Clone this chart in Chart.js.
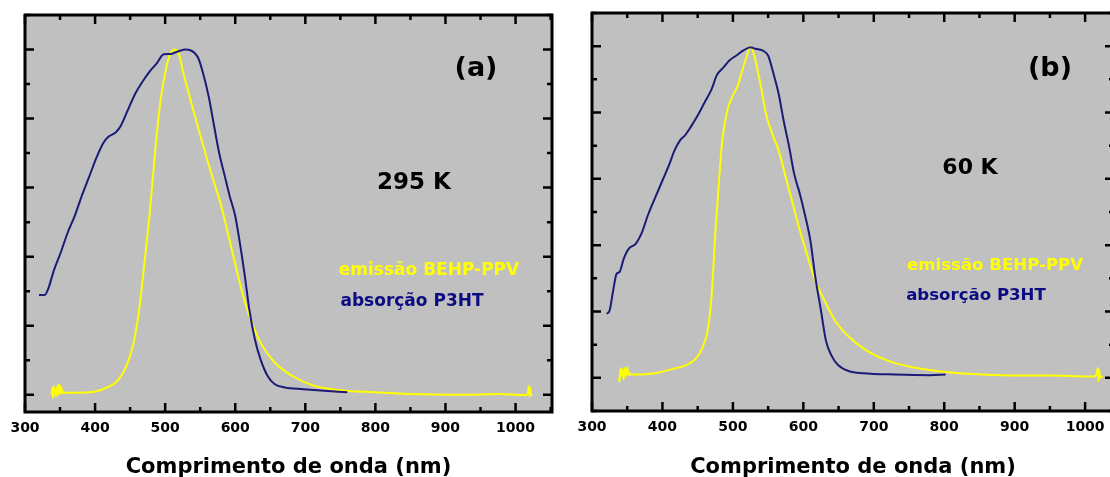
<!DOCTYPE html>
<html><head><meta charset="utf-8">
<script src="https://cdn.jsdelivr.net/npm/chart.js@4"></script>
<style>
html,body{margin:0;padding:0;background:#fff;width:1110px;height:477px;overflow:hidden;}
#wrap{position:relative;width:1110px;height:477px;overflow:hidden;background:#fff;}
#ca{position:absolute;left:0;top:0;}
#cb{position:absolute;left:560px;top:0;}
</style></head><body>
<div id="wrap"><canvas id="ca" width="560" height="480"></canvas><canvas id="cb" width="580" height="480"></canvas></div>
<script>
// ---------- data ----------
const xTickLabels = [300,400,500,600,700,800,900,1000];

// Panel (a) 295 K : absorção P3HT
const absA_nm  = [320,328,333,341,351,361,371,381,392,402,412,419,430,437,447,458,468,478,488,498,508,519,529,536,547,554,562,569,577,585,592,600,605,613,620,628,636,646,656,671,697,722,760];
const absA_val = [0.289,0.289,0.306,0.359,0.412,0.470,0.518,0.576,0.634,0.687,0.730,0.747,0.761,0.780,0.826,0.875,0.908,0.937,0.960,0.986,0.987,0.995,1.0,0.998,0.976,0.932,0.865,0.788,0.701,0.634,0.576,0.518,0.460,0.354,0.248,0.161,0.103,0.055,0.031,0.021,0.016,0.012,0.007];
// Panel (a) 295 K : emissão BEHP-PPV
const emA_nm  = [338,339,340,341,342,343,344,345,346,347,348,349,350,351,352,353,355,356,370,392,417,432,445,455,463,470,478,486,493,501,508,514,519,526,536,549,564,580,595,610,620,636,656,681,712,747,798,849,925,976,1012,1016,1018,1019,1020,1021,1022,1024];
const emA_val = [0.0,0.02,-0.01,0.025,0.003,0.015,-0.005,0.02,0.002,0.03,0.0,0.012,0.028,0.004,0.02,0.005,0.008,0.006,0.006,0.007,0.021,0.040,0.084,0.151,0.248,0.373,0.527,0.711,0.846,0.942,0.990,1.0,0.990,0.932,0.855,0.759,0.653,0.547,0.421,0.296,0.229,0.151,0.094,0.055,0.026,0.014,0.007,0.002,0.0,0.002,-0.001,0.0,0.01,0.025,-0.005,0.02,0.0,-0.002];

// Panel (b) 60 K : absorção P3HT
const absB_nm  = [321,325,330,335,339,345,352,362,370,380,390,400,410,417,425,432,440,450,460,470,477,487,495,505,515,525,532,542,550,557,565,572,580,587,595,602,610,617,625,632,640,650,665,685,730,780,802];
const absB_val = [0.193,0.203,0.263,0.314,0.319,0.359,0.389,0.404,0.434,0.494,0.545,0.595,0.645,0.685,0.716,0.731,0.756,0.791,0.831,0.871,0.912,0.937,0.957,0.972,0.987,0.997,0.992,0.987,0.972,0.922,0.856,0.776,0.695,0.615,0.555,0.494,0.414,0.304,0.203,0.113,0.067,0.037,0.020,0.014,0.010,0.008,0.010];
// Panel (b) 60 K : emissão BEHP-PPV
const emB_nm  = [338,339,340,341,342,343,344,345,346,347,348,349,350,351,352,353,355,356,360,390,415,432,447,457,465,470,475,480,485,492,500,507,512,520,525,532,540,547,555,565,575,585,595,605,615,630,645,665,690,720,755,805,855,905,955,1005,1012,1016,1018,1019,1020,1021,1022,1025];
const emB_val = [0.0,-0.012,0.025,0.005,0.03,0.008,0.01,-0.005,0.03,0.01,0.025,0.006,0.032,0.012,0.02,0.008,0.012,0.01,0.010,0.014,0.027,0.037,0.057,0.092,0.153,0.253,0.434,0.585,0.716,0.806,0.851,0.881,0.917,0.972,1.0,0.957,0.876,0.796,0.741,0.685,0.605,0.525,0.444,0.374,0.304,0.233,0.173,0.123,0.082,0.052,0.032,0.017,0.010,0.007,0.007,0.004,0.004,0.01,0.03,-0.01,0.025,0.0,0.005,0.002];

const labelEm = 'emissão BEHP-PPV';
const labelAbs = 'absorção P3HT';
const xTitle = 'Comprimento de onda (nm)';

// ---------- styles ----------
const NAVY = '#1b1b78';
const NAVY_TXT = '#0c0c82';
const YEL = '#ffff00';
const BG = '#c0c0c0';
const FONT = '"DejaVu Sans", sans-serif';

function pts(xs, ys){ return xs.map((x,i)=>({x:x, y:ys[i]})); }

const framePlugin = {
  id:'frame',
  beforeDraw(chart){
    const {ctx} = chart; ctx.save(); ctx.fillStyle='#fff'; ctx.fillRect(0,0,chart.width,chart.height); ctx.restore();
  },
  beforeDatasetsDraw(chart){
    const {ctx, chartArea:a} = chart;
    ctx.save(); ctx.fillStyle = BG;
    ctx.fillRect(a.left, a.top, a.right-a.left, a.bottom-a.top);
    ctx.restore();
  },
  afterDraw(chart){
    const {ctx, chartArea:a, scales:{x, y}} = chart;
    ctx.save();
    ctx.strokeStyle = '#000'; ctx.lineWidth = 2.5;
    ctx.beginPath();
    for (let v = 300; v <= x.max; v += 50){
      const px = x.getPixelForValue(v);
      const len = (v % 100 === 0) ? 9 : 5;
      ctx.moveTo(px, a.bottom); ctx.lineTo(px, a.bottom - len);
      ctx.moveTo(px, a.top); ctx.lineTo(px, a.top + len);
    }
    for (let k = -1; k <= 11; k++){
      const v = k/10;
      if (v < y.min || v > y.max) continue;
      const py = y.getPixelForValue(v);
      const len = (k % 2 === 0) ? 9 : 5;
      ctx.moveTo(a.left, py); ctx.lineTo(a.left + len, py);
      ctx.moveTo(a.right, py); ctx.lineTo(a.right - len, py);
    }
    ctx.stroke();
    ctx.lineWidth = 3;
    ctx.strokeRect(a.left, a.top, a.right-a.left, a.bottom-a.top);
    const notes = chart.options.plugins.frame.notes || [];
    ctx.textAlign = 'center'; ctx.textBaseline = 'middle';
    notes.forEach(n => { ctx.font = n.font; ctx.fillStyle = n.color; ctx.fillText(n.text, n.x, n.y); });
    ctx.restore();
  }
};

function makeChart(id, abs, em, opt){
  return new Chart(document.getElementById(id), {
    type:'line',
    data:{ datasets:[
      { label:labelAbs, data:abs, borderColor:NAVY, borderWidth:2, pointRadius:0, cubicInterpolationMode:'monotone', fill:false },
      { label:labelEm, data:em, borderColor:YEL, borderWidth:2, pointRadius:0, cubicInterpolationMode:'monotone', fill:false }
    ]},
    options:{
      responsive:false, animation:false, devicePixelRatio:1,
      layout:{ padding: opt.padding },
      plugins:{ legend:{display:false}, tooltip:{enabled:false}, frame:{ notes: opt.notes } },
      scales:{
        x:{ type:'linear', min:300, max:opt.xmax,
            grid:{display:false, drawTicks:false}, border:{display:false},
            afterBuildTicks: s => { s.ticks = xTickLabels.map(v => ({value:v})); },
            afterFit: s => { s.height = opt.axisH; },
            ticks:{ color:'#000', padding:8, maxRotation:0, autoSkip:false,
                    callback: v => String(v),
                    font:{family:FONT, size:14, weight:'bold'} },
            title:{ display:true, text:xTitle, color:'#000', padding:{top:0,bottom:0}, font:{family:FONT, size:21, weight:'bold'} }
        },
        y:{ type:'linear', display:false, min:opt.ymin, max:opt.ymax }
      }
    },
    plugins:[framePlugin]
  });
}

makeChart('ca', pts(absA_nm, absA_val), pts(emA_nm, emA_val), {
  padding:{left:25, right:8, top:15, bottom:0}, axisH:68, xmax:1052, ymin:-0.05, ymax:1.1,
  notes:[
    {text:'(a)', x:476, y:69, font:'bold 27px '+FONT, color:'#000'},
    {text:'295 K', x:414, y:183, font:'bold 23px '+FONT, color:'#000'},
    {text:labelEm, x:429, y:271, font:'bold 17px '+FONT, color:YEL},
    {text:labelAbs, x:412, y:302, font:'bold 17px '+FONT, color:NAVY_TXT}
  ]
});
makeChart('cb', pts(absB_nm, absB_val), pts(emB_nm, emB_val), {
  padding:{left:32, right:26, top:13, bottom:0}, axisH:69, xmax:1041, ymin:-0.1, ymax:1.1,
  notes:[
    {text:'(b)', x:1050-560, y:69, font:'bold 27px '+FONT, color:'#000'},
    {text:'60 K', x:970-560, y:168, font:'bold 22px '+FONT, color:'#000'},
    {text:labelEm, x:995-560, y:266, font:'bold 16.6px '+FONT, color:YEL},
    {text:labelAbs, x:976-560, y:296, font:'bold 16.6px '+FONT, color:NAVY_TXT}
  ]
});
</script>
</body></html>
